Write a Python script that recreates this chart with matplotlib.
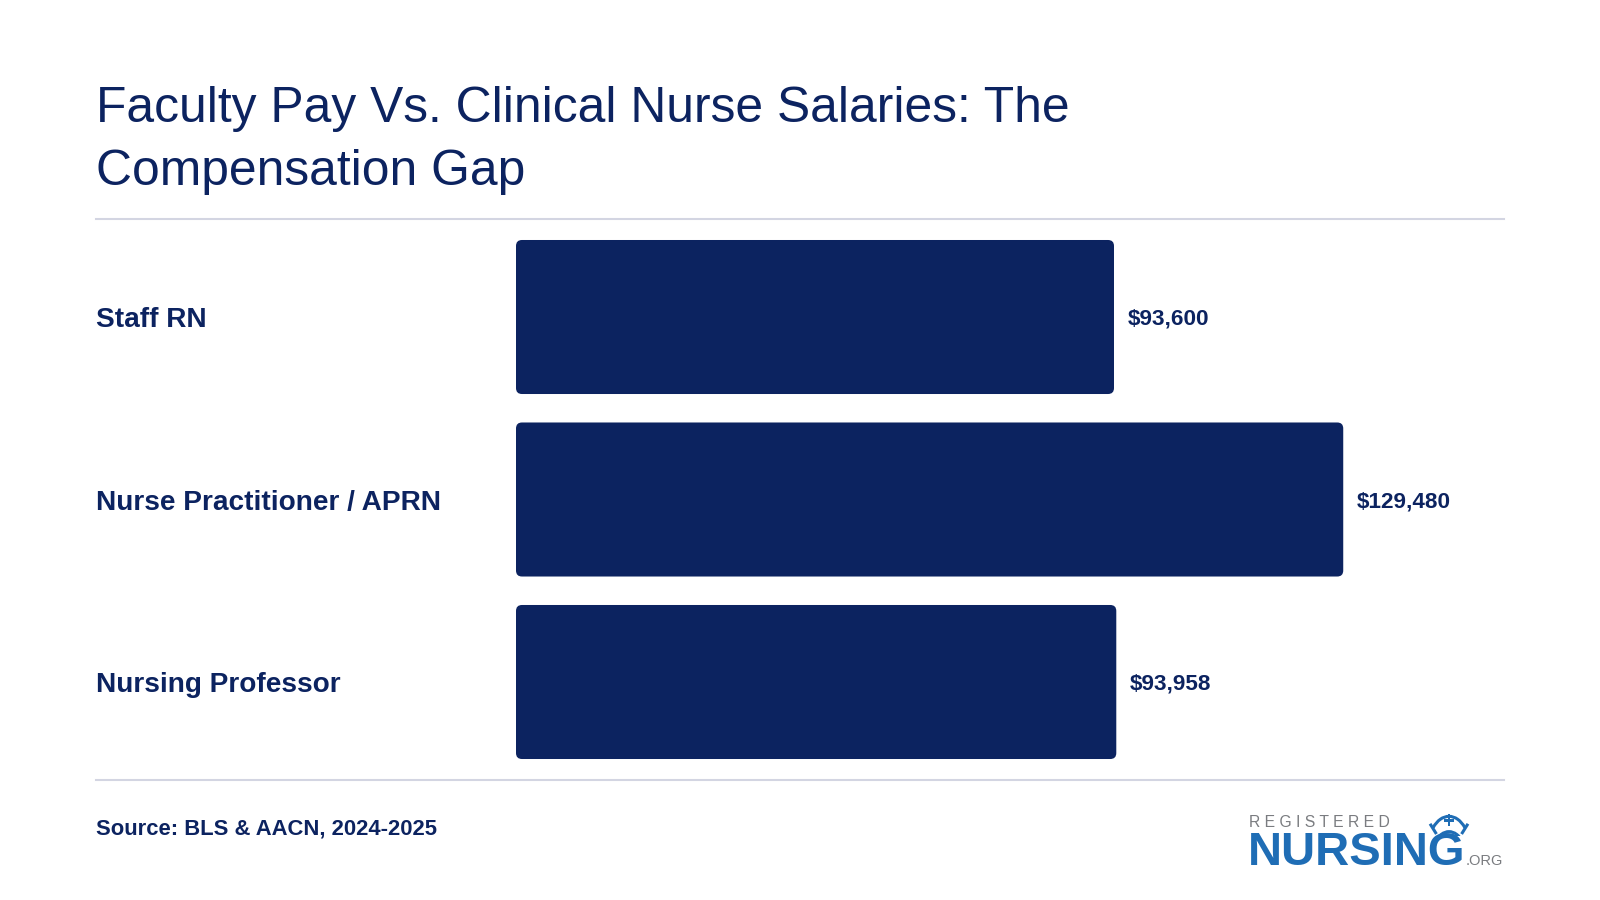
import matplotlib
matplotlib.use("Agg")
import matplotlib.pyplot as plt
from matplotlib.patches import FancyBboxPatch, Arc, Rectangle
from matplotlib import transforms

# data
categories = ["Staff RN", "Nurse Practitioner / APRN", "Nursing Professor"]
salaries = [93600, 129480, 93958]
value_labels = ["$93,600", "$129,480", "$93,958"]

title_lines = ["Faculty Pay Vs. Clinical Nurse Salaries: The", "Compensation Gap"]
source_text = "Source: BLS & AACN, 2024-2025"

NAVY = "#0c2360"
RULE = "#d3d5e2"
LOGO_BLUE = "#1f6db5"
LOGO_GREY = "#7a7c80"

plt.rcParams["font.family"] = ["Liberation Sans", "DejaVu Sans"]

W, H = 1600, 900
fig = plt.figure(figsize=(16, 9), dpi=100)
fig.patch.set_facecolor("white")

def fx(px):
    return px / W

def fy(py):
    return 1 - py / H

# title
fig.text(fx(96), fy(122), title_lines[0], fontsize=35.8, color=NAVY, va="baseline")
fig.text(fx(96), fy(185), title_lines[1], fontsize=35.8, color=NAVY, va="baseline")

# separator rules
for yy in (219, 780):
    fig.add_artist(plt.Line2D([fx(96), fx(1504)], [fy(yy), fy(yy)], color=RULE, lw=1.5))

# bar axes
ax = fig.add_axes([fx(516), fy(780), fx(1504) - fx(516), (780 - 219) / H])
xmax = 988 / (598 / 93600)
ax.set_xlim(0, xmax)
ax.set_ylim(2.537, -0.537)
ax.axis("off")

ypos = list(range(len(categories)))
bars = ax.barh(ypos, salaries, height=0.844, color=NAVY)

# rounded corners
x_per_px = xmax / 988
y_per_px = 3.074 / 561
for b in bars:
    x0, y0 = b.get_x(), b.get_y()
    w, h = b.get_width(), b.get_height()
    b.set_visible(False)
    rp = FancyBboxPatch((x0, y0), w, h,
                        boxstyle="round,pad=0,rounding_size=%f" % (6 * x_per_px),
                        mutation_aspect=y_per_px / x_per_px,
                        facecolor=NAVY, edgecolor="none")
    ax.add_patch(rp)

for y, v, lab in zip(ypos, salaries, value_labels):
    ax.annotate(lab, (v, y), xytext=(10, -1.5), textcoords="offset points",
                va="center", ha="left", fontsize=16.2, fontweight="bold", color=NAVY)

# category labels
trans = transforms.blended_transform_factory(fig.transFigure, ax.transData)
trans = transforms.offset_copy(trans, fig=fig, x=0, y=-2.2, units="points")
for y, cat in zip(ypos, categories):
    ax.text(fx(96), y, cat, transform=trans, va="center", ha="left",
            fontsize=20.2, fontweight="bold", color=NAVY)

# source
fig.text(fx(96), fy(834), source_text, fontsize=15.8, fontweight="bold", color=NAVY, va="baseline")

# logo
fig.text(fx(1249), fy(827), "R E G I S T E R E D", fontsize=11.3, color=LOGO_GREY, va="baseline")
fig.text(fx(1248), fy(865), "NURSING", fontsize=34, fontweight="bold", color=LOGO_BLUE, va="baseline")
fig.text(fx(1466), fy(865), ".ORG", fontsize=10.5, color=LOGO_GREY, va="baseline")

# nurse cap icon
cap = fig.add_axes([fx(1428), fy(836), fx(1470) - fx(1428), (836 - 812) / H])
cap.set_xlim(0, 44)
cap.set_ylim(0, 22)
cap.axis("off")
cap.add_patch(Arc((22, -12), 44, 60, theta1=50, theta2=130, color=LOGO_BLUE, lw=2.2))
cap.add_patch(Arc((22, -26), 40, 60, theta1=55, theta2=125, color=LOGO_BLUE, lw=2.2))
cap.plot([3, 8], [10, 3], color=LOGO_BLUE, lw=2.2)
cap.plot([41, 36], [10, 3], color=LOGO_BLUE, lw=2.2)
cap.add_patch(Rectangle((20.5, 9), 3, 11, color=LOGO_BLUE, lw=0))
cap.add_patch(Rectangle((16.5, 13), 11, 3, color=LOGO_BLUE, lw=0))

fig.savefig("out.png", dpi=100, facecolor="white")
